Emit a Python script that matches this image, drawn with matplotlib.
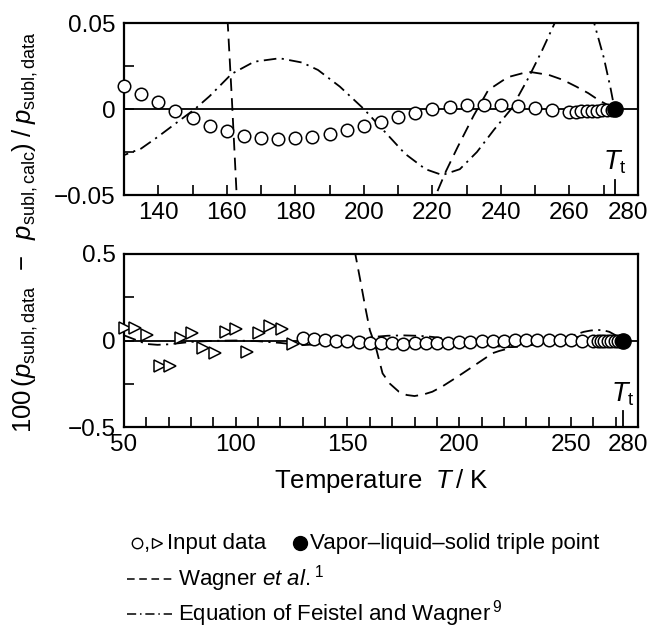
import matplotlib
matplotlib.use("Agg")
import matplotlib.pyplot as plt
from matplotlib.lines import Line2D
from matplotlib.transforms import ScaledTranslation
import numpy as np

plt.rcParams['font.family'] = ['Liberation Sans', 'DejaVu Sans']
plt.rcParams['mathtext.fontset'] = 'custom'
plt.rcParams['mathtext.rm'] = 'Liberation Sans'
plt.rcParams['mathtext.it'] = 'Liberation Sans:italic'
plt.rcParams['mathtext.bf'] = 'Liberation Sans:bold'

#-----------------------------------
# input data (circles), T in K, 100*dp/p
T_circ = [130, 135, 140, 145, 150, 155, 160, 165, 170, 175, 180, 185, 190, 195, 200,
          205, 210, 215, 220, 225, 230, 235, 240, 245, 250, 255, 260, 262, 263.5,
          265, 266.5, 268, 269.5, 271, 272.3]
y_circ = [0.0134, 0.0085, 0.0039, -0.0010, -0.0054, -0.0097, -0.0128, -0.0155, -0.0167,
          -0.0175, -0.0171, -0.0161, -0.0146, -0.0122, -0.0099, -0.0078, -0.0049, -0.0025,
          -0.0002, 0.0010, 0.0021, 0.0023, 0.0021, 0.0017, 0.0008, -0.0006, -0.0016,
          -0.0015, -0.0013, -0.0012, -0.0010, -0.0009, -0.0007, -0.0005, -0.0003]
# input data (triangles), low temperature
T_tri = [50.6, 55.1, 60.3, 66.2, 70.8, 75.3, 80.5, 85.3, 90.7, 95.5, 100.3, 105.2,
         110.2, 115.3, 120.7, 125.4]
y_tri = [0.072, 0.072, 0.033, -0.150, -0.150, 0.014, 0.043, -0.044, -0.070, 0.052,
         0.066, -0.064, 0.043, 0.081, 0.068, -0.019]
# triple point
T_t = 273.16
y_t = 0.0
# Wagner et al.
T_wag = [150, 153.5, 156, 158, 160, 161.5, 163, 165.7, 169, 173, 176.5, 180, 184, 188,
         192.5, 197, 201.5, 206, 210.5, 215, 218, 221, 224, 227.4, 232, 236.3, 242,
         248, 254, 258, 262, 265.5, 268.5, 271, 273.16]
y_wag = [0.75, 0.50, 0.33, 0.19, 0.06, 0.005, -0.055, -0.19, -0.25, -0.296, -0.315,
         -0.321, -0.312, -0.296, -0.265, -0.228, -0.190, -0.151, -0.112, -0.073,
         -0.060, -0.050, -0.036, -0.022, -0.004, 0.011, 0.0185, 0.0217, 0.0198,
         0.0170, 0.0130, 0.0092, 0.0052, 0.0025, 0.0]
# Equation of Feistel and Wagner
T_fw = [50, 55, 60, 65, 70, 75, 80, 90, 100, 110, 120, 125, 130, 135, 140, 145, 150.7,
        155, 161.4, 168, 175.4, 182, 186.6, 193, 200, 206, 212, 218, 222.9, 228, 233,
        238, 243, 248, 252, 255.7, 259, 262, 264.5, 267.2, 270, 272, 273.16]
y_fw = [0.030, 0.005, -0.020, -0.025, -0.022, -0.015, -0.008, -0.002, 0.0, -0.004,
        -0.014, -0.021, -0.0268, -0.023, -0.016, -0.0085, 0.0, 0.0075, 0.0204, 0.0275,
        0.0295, 0.027, 0.0227, 0.013, 0.0, -0.013, -0.026, -0.035, -0.0384, -0.035,
        -0.025, -0.012, 0.0, 0.018, 0.034, 0.050, 0.058, 0.061, 0.059, 0.050, 0.030,
        0.012, 0.0]

top_xlim = (130, 280)
top_ylim = (-0.05, 0.05)
top_xticks = [140, 160, 180, 200, 220, 240, 260, 280]
top_yticklabels = ['\u22120.05', '0', '0.05']
bot_xlim = (50, 280)
bot_ylim = (-0.5, 0.5)
bot_xticks = [50, 100, 150, 200, 250, 280]
bot_yticklabels = ['\u22120.5', '0', '0.5']
#-----------------------------------

W, H = 655, 629
fig = plt.figure(figsize=(W / 100, H / 100), dpi=100)

def px_rect(l, t, r, b):
    return [l / W, 1 - b / H, (r - l) / W, (b - t) / H]

ax1 = fig.add_axes(px_rect(124, 23, 638, 195))
ax2 = fig.add_axes(px_rect(124, 254, 638, 427))

fs = 17.5
lw = 1.3
circ_kw = dict(ls='none', marker='o', ms=9, mfc='white', mec='k', mew=1.1)
tri_kw = dict(ls='none', marker='>', ms=9, mfc='white', mec='k', mew=1.1)

#-----------------------------------
def draw(ax, xlim, ylim, xticks, yticklabels, ymin_step, tt_h):
#-----------------------------------
    ax.axhline(0, color='k', lw=1.3, zorder=1)
    ax.plot(T_wag, y_wag, color='k', lw=lw, dashes=[7, 4], zorder=2)
    ax.plot(T_fw, y_fw, color='k', lw=lw, dashes=[7, 3, 1.2, 3], zorder=2)
    ax.set_xlim(*xlim)
    ax.set_ylim(*ylim)
    # markers: only those inside the x range, drawn unclipped like the original
    tri = [(t, v) for t, v in zip(T_tri, y_tri) if xlim[0] - 1 <= t <= xlim[1]]
    if tri:
        ax.plot(*zip(*tri), zorder=3, clip_on=False, **tri_kw)
    ax.plot(T_circ, y_circ, zorder=3, clip_on=False, **circ_kw)
    ax.plot([T_t], [y_t], ls='none', marker='o', ms=11, color='k', zorder=4, clip_on=False)
    ax.xaxis.set_major_locator(plt.FixedLocator(xticks))
    ax.xaxis.set_minor_locator(plt.MultipleLocator(10))
    ax.yaxis.set_major_locator(plt.FixedLocator([ylim[0], 0, ylim[1]]))
    ax.yaxis.set_minor_locator(plt.MultipleLocator(ymin_step))
    ax.yaxis.set_major_formatter(plt.FixedFormatter(yticklabels))
    ax.tick_params(which='both', direction='in', top=False, right=False,
                   length=7, width=1.2, labelsize=fs)
    ax.tick_params(axis='x', pad=5)
    ax.tick_params(axis='y', pad=6)
    for s in ax.spines.values():
        s.set_linewidth(1.6)
    ax.axvline(T_t, ymin=0, ymax=tt_h, color='k', lw=1.3)
    ax.text(T_t, tt_h + 0.02, r'$T_{\rm t}$', transform=ax.get_xaxis_transform(),
            ha='center', va='bottom', fontsize=fs + 2)

draw(ax1, top_xlim, top_ylim, top_xticks, top_yticklabels, 0.025, 0.09)
draw(ax2, bot_xlim, bot_ylim, bot_xticks, bot_yticklabels, 0.25, 0.09)

# shift last "280" label slightly inward
fig.canvas.draw()
for ax in (ax1, ax2):
    for t in ax.get_xticklabels():
        if t.get_text() == '280':
            t.set_transform(t.get_transform() + ScaledTranslation(-7 / 72, 0, fig.dpi_scale_trans))

fig.text(25 / W, 1 - 232 / H,
         r'100$\,(p_{\rm subl,data}\;\;-\;\;p_{\rm subl,calc})\;/\;p_{\rm subl,data}$',
         rotation=90, ha='center', va='center', fontsize=18.5)
fig.text(381 / W, 1 - 481 / H, r'Temperature  $T\,$/ K', ha='center', va='center',
         fontsize=18.5)

# legend text block
lfs = 16
def fx(x): return x / W
def fy(y): return 1 - y / H
r1, r2, r3 = 543, 579, 614
fig.add_artist(Line2D([fx(137)], [fy(r1)], **dict(circ_kw, ms=7.5, mew=1.0)))
fig.text(fx(144), fy(r1), ',', ha='left', va='center', fontsize=lfs)
fig.add_artist(Line2D([fx(157)], [fy(r1)], **dict(tri_kw, ms=7.5, mew=1.0)))
fig.text(fx(167), fy(r1), 'Input data', ha='left', va='center', fontsize=lfs)
fig.add_artist(Line2D([fx(300)], [fy(r1)], ls='none', marker='o', ms=10, color='k'))
fig.text(fx(310), fy(r1), 'Vapor\u2013liquid\u2013solid triple point', ha='left',
         va='center', fontsize=lfs)
fig.add_artist(Line2D([fx(127), fx(172)], [fy(r2), fy(r2)], color='k', lw=1.1,
                      dashes=[5, 3]))
fig.text(fx(178), fy(r2), r'Wagner $et\ al.$$^{1}$', ha='left', va='center', fontsize=lfs)
fig.add_artist(Line2D([fx(127), fx(172)], [fy(r3), fy(r3)], color='k', lw=1.1,
                      dashes=[6, 2.5, 1, 2.5]))
fig.text(fx(178), fy(r3), r'Equation of Feistel and Wagner$\,^{9}$', ha='left',
         va='center', fontsize=lfs)

fig.savefig('out.png', dpi=100)
